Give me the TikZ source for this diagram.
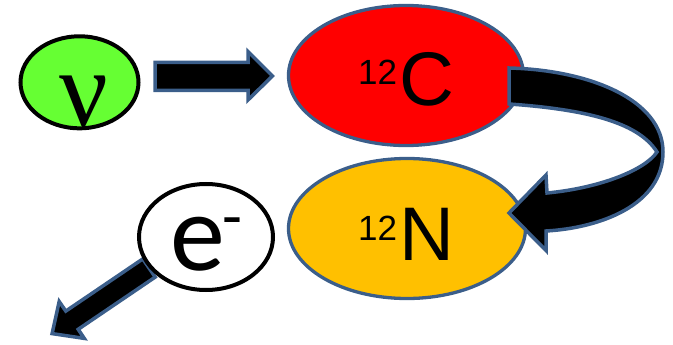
\documentclass[tikz,border=0pt]{standalone}
\usepackage{fontspec}
\setmainfont{Liberation Sans}
\newfontfamily\serifgr{Liberation Serif}
\newfontfamily\calib{Carlito}
\usetikzlibrary{shapes.geometric}
\definecolor{olblue}{HTML}{3B5E8A}
\definecolor{nugreen}{HTML}{66FF33}
\definecolor{corange}{HTML}{FFC000}
\begin{document}
\begin{tikzpicture}[x=1pt,y=-1pt,
  blk/.style={fill=black, draw=olblue, line width=3.5pt, line join=miter},
  ell/.style={ellipse, inner sep=0pt, outer sep=0pt}]
\useasboundingbox (0,0) rectangle (673,345);
% ellipses
\node[ell, draw=black, line width=4pt, fill=nugreen, minimum width=118pt, minimum height=92pt] (nu) at (79.5,82.3) {};
\node[ell, draw=olblue, line width=3.3pt, fill=red, minimum width=235pt, minimum height=140pt] (c) at (406,75.5) {};
\node[ell, draw=olblue, line width=3.3pt, fill=corange, minimum width=237pt, minimum height=140pt] (n) at (407,228.5) {};
% outgoing electron arrow
\draw[blk] (155.2,277.1) -- (78.2,329.3) -- (84.3,338.4) -- (52.1,333.6) -- (59.2,301.5) -- (65.8,311.1) -- (142.8,258.9) -- cycle;
\node[ell, draw=black, line width=4pt, fill=white, minimum width=134pt, minimum height=106pt] (e) at (206,237) {};
% straight arrow nu -> C
\draw[blk] (155,62.5) -- (248,62.5) -- (248,51.5) -- (272.5,76) -- (248,100) -- (248,90.5) -- (155,90.5) -- cycle;
% curved arrow C -> N
\draw[blk] (509,68) .. controls (590,70) and (663,100) .. (663,152)
  .. controls (663,205) and (600,228) .. (546,231)
  -- (546,250.5) -- (509,213) -- (546,175) -- (547,193)
  .. controls (600,188) and (645,170) .. (657,152)
  .. controls (640,125) and (595,110) .. (509,104) -- cycle;
% texts
\node[anchor=base, inner sep=0pt] (nut) at (83.5,125) {\serifgr\fontsize{108}{108}\selectfont ν};
\node[anchor=base west, inner sep=0pt] (ct) at (358,106) {\raisebox{21pt}{\fontsize{35}{35}\selectfont 12}\kern2pt\fontsize{76}{76}\selectfont C};
\node[anchor=base west, inner sep=0pt] (nt) at (358,260) {\raisebox{20pt}{\fontsize{35}{35}\selectfont 12}\kern2pt\fontsize{76}{76}\selectfont N};
\node[anchor=base west, inner sep=0pt] (et) at (170.5,270) {\calib\fontsize{110}{110}\selectfont e\kern-3pt\raisebox{32pt}{\fontsize{65}{65}\selectfont -}};
\end{tikzpicture}
\end{document}
